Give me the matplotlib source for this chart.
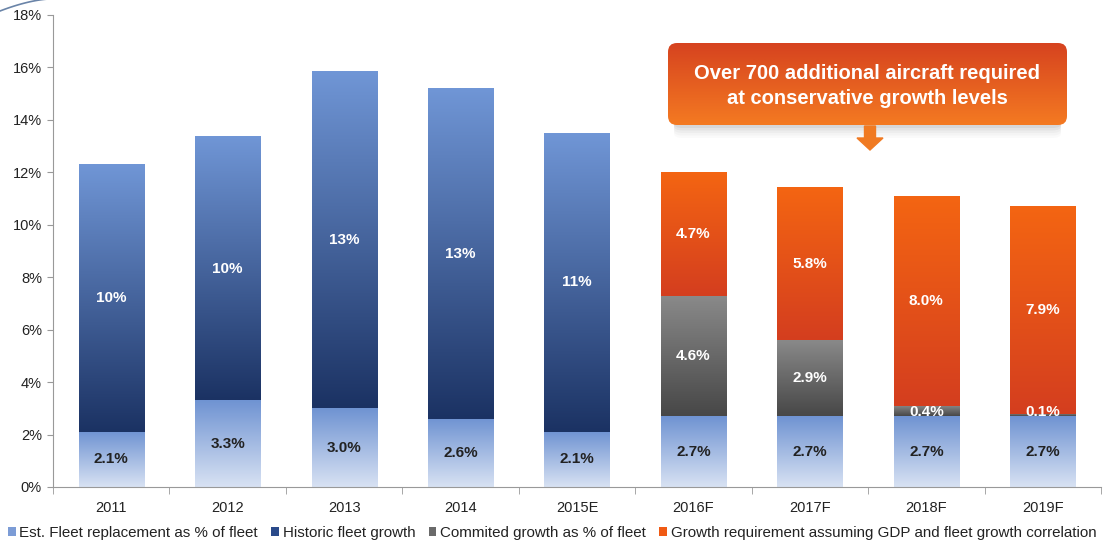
import matplotlib
matplotlib.use("Agg")
import matplotlib.pyplot as plt
import numpy as np
from matplotlib.colors import LinearSegmentedColormap
from matplotlib.patches import FancyBboxPatch, Patch, FancyArrow

plt.rcParams["font.family"] = ["Liberation Sans", "DejaVu Sans"]

years = ["2011", "2012", "2013", "2014", "2015E", "2016F", "2017F", "2018F", "2019F"]
replacement = [2.1, 3.3, 3.0, 2.6, 2.1, 2.7, 2.7, 2.7, 2.7]
historic = [10.2, 10.05, 12.85, 12.6, 11.4, 0, 0, 0, 0]
committed = [0, 0, 0, 0, 0, 4.6, 2.9, 0.4, 0.1]
gdp_growth = [0, 0, 0, 0, 0, 4.7, 5.8, 8.0, 7.9]

series_names = ["Est. Fleet replacement as % of fleet", "Historic fleet growth",
                "Commited growth as % of fleet",
                "Growth requirement assuming GDP and fleet growth correlation"]

# gradients run bottom -> top
grads = [
    ["#d8e2f3", "#6f93d2"],
    ["#1b3263", "#7096d6"],
    ["#474747", "#8a8a8a"],
    ["#d43e1f", "#f46512"],
]
solid = ["#7c9cd6", "#2a4a8a", "#6a6a6a", "#f05a14"]
label_col = ["#222222", "white", "white", "white"]
label_fmt = ["{:.1f}%", "{:.0f}%", "{:.1f}%", "{:.1f}%"]

W, H = 1106, 545
fig = plt.figure(figsize=(W / 100, H / 100), dpi=100)
ax = fig.add_axes([53 / W, 58 / H, 1048 / W, 472 / H])

x = np.arange(len(years))
width = 0.56
grad = np.linspace(0, 1, 256).reshape(-1, 1)
bottoms = np.zeros(len(years))
for k, vals in enumerate([replacement, historic, committed, gdp_growth]):
    cmap = LinearSegmentedColormap.from_list("g%d" % k, grads[k])
    for i, v in enumerate(vals):
        if v <= 0:
            continue
        b = bottoms[i]
        ax.imshow(grad, extent=[x[i] - width / 2, x[i] + width / 2, b, b + v],
                  origin="lower", aspect="auto", cmap=cmap, zorder=2)
        ty = b + v / 2 if v >= 1 else b + 0.15
        ax.text(x[i], ty, label_fmt[k].format(v), ha="center", va="center",
                color=label_col[k], fontsize=11, fontweight="bold", zorder=4)
    bottoms += np.array(vals)

ax.set_xlim(-0.5, len(years) - 0.5)
ax.set_ylim(0, 18)
ax.set_yticks(np.arange(0, 19, 2))
ax.set_yticklabels(["%d%%" % t for t in range(0, 19, 2)])
ax.set_xticks(x)
ax.set_xticklabels(years)
ax.set_xticks(np.arange(-0.5, len(years), 1), minor=True)
ax.tick_params(axis="x", which="major", length=0, pad=10)
ax.tick_params(axis="x", which="minor", length=5, color="#999999", direction="out")
ax.tick_params(axis="y", length=4, color="#999999", pad=4)
ax.tick_params(labelsize=10.5, labelcolor="#222222")
for s in ["top", "right"]:
    ax.spines[s].set_visible(False)
for s in ["left", "bottom"]:
    ax.spines[s].set_color("#999999")

handles = [Patch(facecolor=c, edgecolor="none") for c in solid]
fig.legend(handles, series_names, loc="lower left", bbox_to_anchor=(-1 / W, -4 / H),
           ncol=4, frameon=False, fontsize=10.9, handlelength=0.5, handleheight=0.5,
           handletextpad=0.25, columnspacing=0.88, labelcolor="#222222",
           borderaxespad=0.2)

# callout box with soft shadow below
bx, by, bw, bh = 668, 545 - 125, 399, 82
for j, a in enumerate([0.10, 0.08, 0.06, 0.04, 0.03]):
    sh = FancyBboxPatch(((bx + 6) / W, (by - 3 - 2.5 * j) / H), (bw - 12) / W, 20 / H,
                        boxstyle="round,pad=0,rounding_size=0.008",
                        transform=fig.transFigure, facecolor="#777777",
                        edgecolor="none", alpha=a, zorder=0.5)
    fig.patches.append(sh)
cax = fig.add_axes([bx / W, by / H, bw / W, bh / H])
cax.set_zorder(2)
cax.set_axis_off()
cax.set_xlim(0, bw)
cax.set_ylim(0, bh)
ccmap = LinearSegmentedColormap.from_list("callout", ["#f47a22", "#d6431f"])
im = cax.imshow(grad, extent=[0, bw, 0, bh], origin="lower", aspect="auto", cmap=ccmap)
clip = FancyBboxPatch((0, 0), bw, bh, boxstyle="round,pad=0,rounding_size=9",
                      facecolor="none", edgecolor="none")
cax.add_patch(clip)
im.set_clip_path(clip)
cax.text(bw / 2, bh / 2 - 2, "Over 700 additional aircraft required\nat conservative growth levels",
         ha="center", va="center", color="white", fontsize=14.5, fontweight="bold",
         linespacing=1.4)

arr = FancyArrow(870 / W, 1 - 126 / H, 0, -24 / H, width=11 / W,
                 head_width=26 / W, head_length=12 / H, length_includes_head=True,
                 transform=fig.transFigure, color="#f07a22", zorder=6)
fig.patches.append(arr)

# small decorative arc in the corner
t = np.linspace(0, 1, 50)
fig.add_artist(plt.Line2D((t * 50) / W, 1 - (11 - 12 * (1 - (1 - t) ** 1.6)) / H,
                          transform=fig.transFigure, color="#6a84a8", lw=1.2))

fig.savefig("out.png", dpi=100)
